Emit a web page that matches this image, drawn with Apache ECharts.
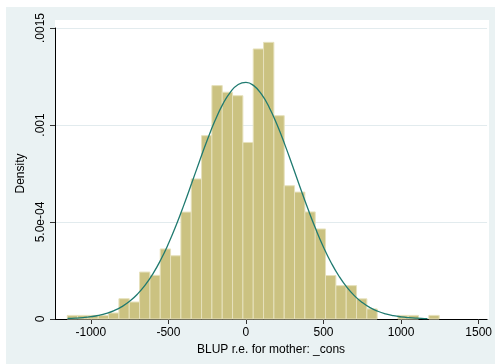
<!DOCTYPE html>
<html>
<head>
<meta charset="utf-8">
<script src="https://cdn.jsdelivr.net/npm/echarts@6/dist/echarts.min.js"></script>
<style>
html,body{margin:0;padding:0;background:#fff;}
#c{width:495px;height:364px;}
</style>
</head>
<body>
<div id="c"></div>
<script>
// Histogram bin edges (37 edges -> 36 bins)
const binEdges = [-1152, -1085.4, -1018.8, -952.2, -885.6, -819, -752.4, -685.8, -619.2, -552.6,
  -486, -419.4, -352.8, -286.2, -219.6, -153, -86.4, -19.8, 46.8, 113.4, 180, 246.6, 313.2,
  379.8, 446.4, 513, 579.6, 646.2, 712.8, 779.4, 846, 912.6, 979.2, 1045.8, 1112.4, 1179, 1245.6];
// Density of each bin
const binDensity = [0.0000186, 0.0000186, 0.0000186, 0.0000186, 0.000031, 0.0001046, 0.0000876,
  0.000242, 0.000225, 0.000361, 0.000326, 0.000551, 0.000722, 0.000945, 0.001203, 0.001169,
  0.001151, 0.000910, 0.001392, 0.001426, 0.001048, 0.000687, 0.000654, 0.000552, 0.000464,
  0.000224, 0.000172, 0.000172, 0.000104, 0.000052, 0, 0, 0.0000186, 0.0000186, 0, 0.0000186];
// Normal density overlay
const curveX = [-1150, -1100, -1050, -1000, -950, -900, -850, -800, -750, -700, -650, -600, -550,
  -500, -450, -400, -350, -300, -250, -200, -150, -100, -50, 0, 50, 100, 150, 200, 250, 300,
  350, 400, 450, 500, 550, 600, 650, 700, 750, 800, 850, 900, 950, 1000, 1050, 1100, 1150, 1170];
const curveY = [0.0000027, 0.0000045, 0.0000074, 0.0000119, 0.0000187, 0.0000288, 0.0000433,
  0.0000635, 0.0000911, 0.0001277, 0.0001744, 0.0002329, 0.0003041, 0.0003878, 0.0004832,
  0.0005882, 0.0006993, 0.0008123, 0.0009216, 0.0010215, 0.0011061, 0.0011696, 0.0012085,
  0.0012199, 0.0012029, 0.0011587, 0.0010905, 0.0010024, 0.0009002, 0.0007897, 0.0006768,
  0.0005667, 0.0004634, 0.0003703, 0.0002889, 0.0002203, 0.0001641, 0.0001193, 0.0000849,
  0.0000589, 0.0000400, 0.0000265, 0.0000172, 0.0000108, 0.0000067, 0.0000040, 0.0000024, 0.0000019];
const xTicks = [-1000, -500, 0, 500, 1000, 1500];
const yTicks = [0, 0.0005, 0.001, 0.0015];
const yTickLabels = ['0', '5.0e-04', '.001', '.0015'];
const xTitle = 'BLUP r.e. for mother: _cons';
const yTitle = 'Density';

const histData = binDensity.map((d, i) => [binEdges[i], binEdges[i + 1], d]);
const lineData = curveX.map((x, i) => [x, curveY[i]]);

const chart = echarts.init(document.getElementById('c'), null, {renderer: 'canvas'});
const FONT = '"Liberation Sans", Arial, sans-serif';
chart.setOption({
  backgroundColor: '#ffffff',
  animation: false,
  graphic: [
    {type: 'rect', z: -20, silent: true, shape: {x: 6, y: 7, width: 489, height: 357}, style: {fill: '#eaf2f3'}},
    {type: 'rect', z: -19, silent: true, shape: {x: 55, y: 20, width: 434, height: 299}, style: {fill: '#ffffff'}}
  ],
  grid: {left: 55, top: 28, width: 434, height: 291, containLabel: false},
  xAxis: {
    type: 'value', min: -1231, max: 1554.5,
    name: xTitle, nameLocation: 'middle', nameGap: 21,
    nameTextStyle: {color: '#000', fontSize: 12, fontFamily: FONT},
    axisLine: {show: true, onZero: false, lineStyle: {color: '#000', width: 1}},
    axisTick: {show: true, length: 5, customValues: xTicks, lineStyle: {color: '#333'}},
    axisLabel: {customValues: xTicks, color: '#000', fontSize: 12, fontFamily: FONT, margin: 8,
      formatter: v => String(v)},
    splitLine: {show: false}
  },
  yAxis: {
    type: 'value', min: 0, max: 0.0015, interval: 0.0005,
    name: yTitle, nameLocation: 'middle', nameGap: 22, nameRotate: 90,
    nameTextStyle: {color: '#000', fontSize: 12, fontFamily: FONT},
    axisLine: {show: true, onZero: false, lineStyle: {color: '#000', width: 1}},
    axisTick: {show: true, length: 5, lineStyle: {color: '#333'}},
    axisLabel: {
      rotate: 90, color: '#000', fontSize: 12, fontFamily: FONT, margin: 8,
      formatter: v => {
        const i = yTicks.findIndex(t => Math.abs(t - v) < 1e-9);
        return i >= 0 ? yTickLabels[i] : '';
      }
    },
    splitLine: {show: true, lineStyle: {color: '#e2ebee', width: 1}}
  },
  series: [
    {
      type: 'custom',
      data: histData,
      z: 2,
      renderItem: (params, api) => {
        const x0 = api.value(0), x1 = api.value(1), h = api.value(2);
        if (!h) return null;
        const p0 = api.coord([x0, h]);
        const p1 = api.coord([x1, 0]);
        return {
          type: 'rect',
          shape: {x: p0[0], y: p0[1], width: p1[0] - p0[0], height: p1[1] - p0[1]},
          style: {fill: '#cbc281', stroke: '#e6e1bc', lineWidth: 1}
        };
      }
    },
    {
      type: 'line',
      data: lineData,
      z: 3,
      smooth: true,
      showSymbol: false,
      lineStyle: {color: '#1f7a70', width: 1.3}
    }
  ]
});
</script>
</body>
</html>
